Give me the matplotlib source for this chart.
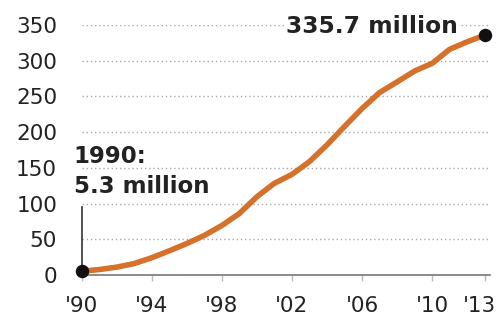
import matplotlib
matplotlib.use("Agg")
import matplotlib.pyplot as plt
from matplotlib.transforms import ScaledTranslation

years = [1990, 1991, 1992, 1993, 1994, 1995, 1996, 1997, 1998, 1999, 2000, 2001,
         2002, 2003, 2004, 2005, 2006, 2007, 2008, 2009, 2010, 2011, 2012, 2013]
subs = [5.3, 7.6, 11.0, 16.0, 24.1, 33.8, 44.0, 55.3, 69.2, 86.0, 109.5, 128.4,
        140.8, 158.7, 182.1, 207.9, 233.0, 255.4, 270.3, 285.6, 296.3, 316.0, 326.5, 335.7]
xticks = [1990, 1994, 1998, 2002, 2006, 2010, 2013]
xticklabels = ["'90", "'94", "'98", "'02", "'06", "'10", "'13"]
yticks = [0, 50, 100, 150, 200, 250, 300, 350]

plt.rcParams['font.family'] = ['DejaVu Sans']

fig = plt.figure(figsize=(4.98, 3.23), dpi=100)
ax = fig.add_axes([78/498, 48/323, 412/498, 250/323])
ax.set_xlim(1989.8, 2013.3)
ax.set_ylim(0, 350)

for s in ['top', 'right', 'left']:
    ax.spines[s].set_visible(False)
ax.spines['bottom'].set_color('#777777')
ax.spines['bottom'].set_linewidth(1.2)

ax.set_yticks(yticks)
ax.set_yticklabels([str(v) for v in yticks], fontsize=15.5, color='#222222')
ax.tick_params(axis='y', length=0, pad=15)
ax.set_xticks(xticks)
ax.set_xticklabels(xticklabels, fontsize=15.5, color='#222222')
ax.tick_params(axis='x', length=4, width=1, color='#bbbbbb', pad=11)
last = ax.get_xticklabels()[-1]
last.set_transform(last.get_transform() + ScaledTranslation(-5/100, 0, fig.dpi_scale_trans))

for v in yticks[1:]:
    ax.axhline(v, xmin=0.01, xmax=1.0, color='#aaaaaa', linestyle=(0, (1, 2)), linewidth=1, zorder=1)

ax.plot(years, subs, color='#d6712b', linewidth=4, solid_capstyle='round',
        solid_joinstyle='round', zorder=3)
ax.plot([years[0], years[0]], [subs[0], 95], color='#333333', linewidth=1.2, zorder=2)
ax.scatter([years[0], years[-1]], [subs[0], subs[-1]], s=75, color='#111111', zorder=4, clip_on=False)

ax.text(2001.67, 339, "335.7 million", fontsize=16.8, fontweight='bold', color='#222222',
        ha='left', va='baseline', zorder=5,
        bbox=dict(facecolor='white', edgecolor='none', pad=1))
ax.text(1989.55, 157, "1990:", fontsize=16.5, fontweight='bold', color='#222222',
        ha='left', va='baseline', zorder=5)
ax.text(1989.55, 115, "5.3 million", fontsize=16.5, fontweight='bold', color='#222222',
        ha='left', va='baseline', zorder=5)

fig.savefig("out.png", dpi=100)
